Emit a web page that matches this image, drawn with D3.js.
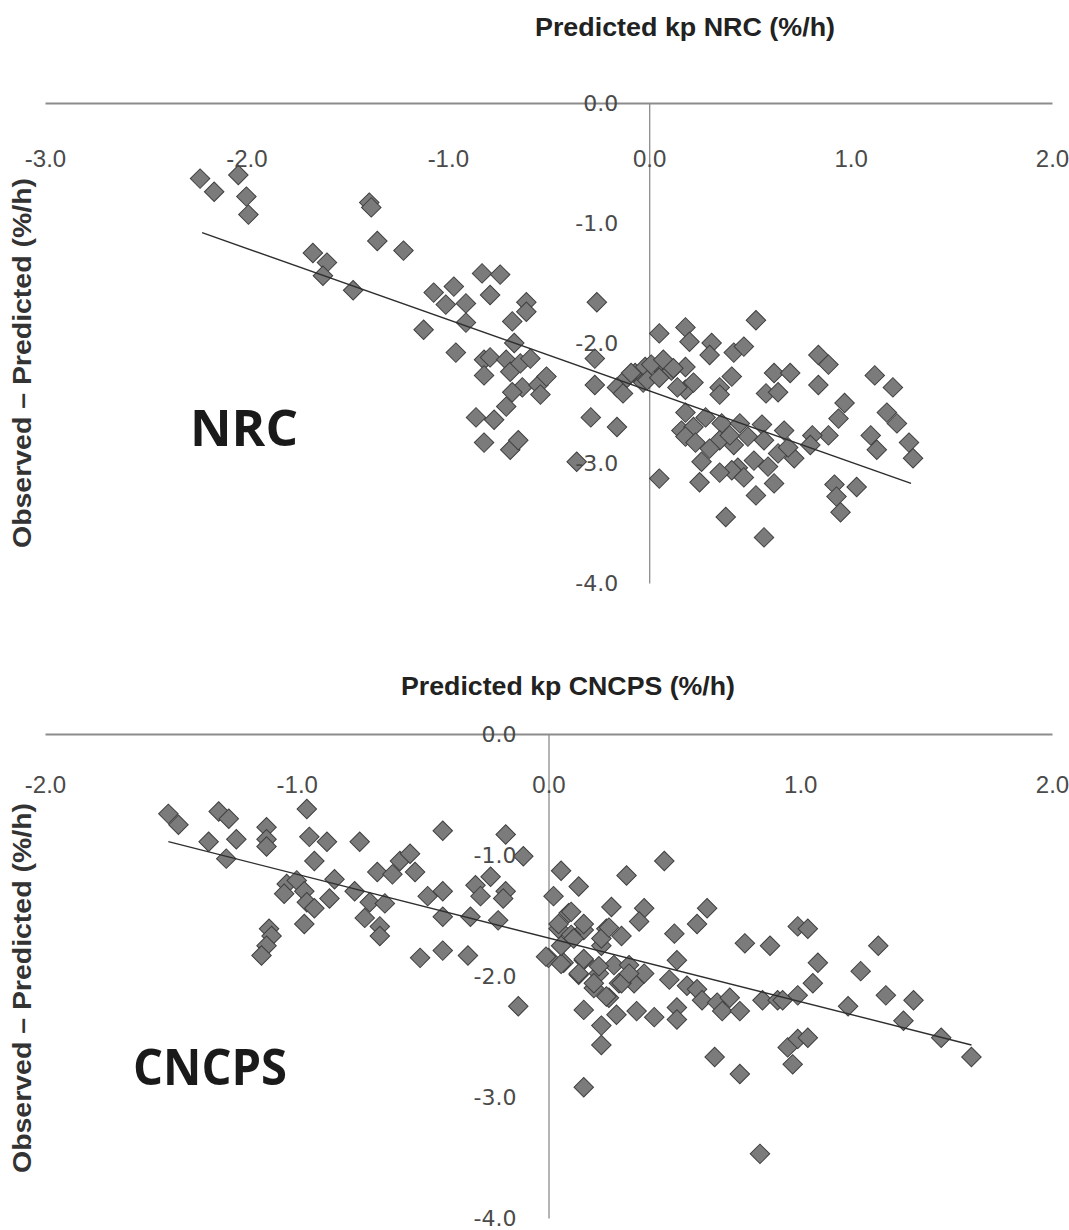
<!DOCTYPE html>
<html><head><meta charset="utf-8">
<script src="https://cdn.jsdelivr.net/npm/d3@7"></script>
<style>body{margin:0;background:#fff}svg{display:block}</style>
</head><body>
<svg id="c" width="1069" height="1230"></svg>
<script>
// ---- data ----
const xTicksNRC = [-3, -2, -1, 0, 1, 2];
const xTicksCNCPS = [-2, -1, 0, 1, 2];
const yTicks = [0, -1, -2, -3, -4];

const nrcPoints = [
[-2.23,-0.63],[-2.16,-0.74],[-2.04,-0.60],[-2.00,-0.78],[-1.99,-0.93],
[-1.67,-1.25],[-1.60,-1.33],[-1.62,-1.44],[-1.47,-1.56],[-1.39,-0.83],[-1.38,-0.87],[-1.35,-1.15],[-1.22,-1.23],
[-1.07,-1.58],[-0.97,-1.53],[-1.01,-1.68],[-0.91,-1.67],[-1.12,-1.89],[-0.91,-1.83],[-0.83,-1.42],[-0.74,-1.43],[-0.79,-1.60],[-0.61,-1.66],[-0.61,-1.74],[-0.68,-1.82],[-0.67,-2.00],[-0.26,-1.66],
[-0.96,-2.08],[-0.82,-2.14],[-0.79,-2.12],[-0.82,-2.27],[-0.71,-2.14],[-0.69,-2.24],[-0.64,-2.17],[-0.59,-2.13],[-0.63,-2.37],[-0.55,-2.35],[-0.51,-2.28],[-0.54,-2.43],[-0.68,-2.41],[-0.71,-2.53],[-0.86,-2.62],[-0.77,-2.64],[-0.82,-2.83],[-0.69,-2.89],[-0.65,-2.81],
[-0.27,-2.13],[-0.27,-2.35],[-0.16,-2.37],[-0.13,-2.42],[-0.07,-2.25],[-0.03,-2.33],[-0.29,-2.62],[-0.16,-2.70],[-0.36,-2.99],[-0.11,-2.29],[-0.09,-2.25],[-0.02,-2.20],
[0.05,-1.92],[0.18,-1.87],[0.05,-2.20],[0.11,-2.23],[0.18,-2.20],[0.05,-3.13],[0.18,-2.39],[0.18,-2.58],[0.16,-2.73],[0.20,-1.99],[0.31,-2.00],[0.30,-2.10],[0.42,-2.08],[0.47,-2.03],[0.53,-1.81],
[0.01,-2.18],[0.07,-2.14],[0.12,-2.21],[-0.01,-2.31],[0.05,-2.29],[0.14,-2.37],[0.22,-2.33],[0.35,-2.37],[0.41,-2.28],[0.35,-2.43],[0.62,-2.25],[0.70,-2.25],[0.58,-2.42],[0.64,-2.41],
[0.84,-2.10],[0.89,-2.18],[0.84,-2.35],[1.12,-2.27],[1.21,-2.37],[0.97,-2.50],[0.94,-2.63],[0.89,-2.77],[0.81,-2.77],[0.80,-2.85],[1.18,-2.58],[1.23,-2.67],[1.10,-2.77],[1.13,-2.89],[1.29,-2.83],[1.31,-2.96],
[0.22,-2.70],[0.18,-2.78],[0.23,-2.83],[0.28,-2.62],[0.36,-2.67],[0.45,-2.67],[0.56,-2.68],[0.67,-2.73],[0.49,-2.78],[0.57,-2.81],[0.42,-2.85],[0.35,-2.81],[0.30,-2.88],[0.40,-2.77],[0.64,-2.92],[0.72,-2.96],[0.69,-2.87],[0.52,-2.98],[0.59,-3.03],[0.44,-3.04],[0.26,-2.99],[0.41,-3.06],[0.35,-3.08],[0.47,-3.12],[0.62,-3.17],[0.25,-3.16],[0.53,-3.27],[0.92,-3.18],[1.03,-3.20],[0.93,-3.28],[0.95,-3.41],[0.38,-3.45],[0.57,-3.62]
];

const cncpsPoints = [
[-1.51,-0.66],[-1.47,-0.75],[-1.31,-0.64],[-1.27,-0.70],[-1.35,-0.89],[-1.24,-0.87],[-1.28,-1.03],[-1.12,-0.77],[-1.12,-0.87],[-1.12,-0.93],[-0.96,-0.62],[-0.95,-0.85],[-0.88,-0.89],[-0.75,-0.89],[-0.93,-1.05],
[-1.04,-1.24],[-1.05,-1.32],[-1.00,-1.21],[-0.97,-1.30],[-0.96,-1.39],[-0.93,-1.44],[-0.87,-1.36],[-0.85,-1.20],[-0.97,-1.57],[-1.11,-1.61],[-1.10,-1.67],[-1.12,-1.75],[-1.14,-1.83],
[-0.77,-1.30],[-0.71,-1.39],[-0.65,-1.40],[-0.73,-1.52],[-0.67,-1.59],[-0.67,-1.67],[-0.68,-1.14],[-0.62,-1.16],[-0.59,-1.05],[-0.55,-0.99],[-0.53,-1.14],[-0.42,-0.80],[-0.48,-1.34],[-0.42,-1.30],[-0.42,-1.51],[-0.31,-1.51],[-0.51,-1.85],[-0.42,-1.79],[-0.32,-1.83],
[-0.17,-0.83],[-0.23,-1.18],[-0.29,-1.25],[-0.27,-1.34],[-0.17,-1.30],[-0.18,-1.36],[-0.20,-1.54],[-0.10,-1.01],[-0.12,-2.25],
[0.05,-1.13],[0.12,-1.26],[0.02,-1.34],[0.31,-1.17],[0.46,-1.05],[0.25,-1.43],[0.08,-1.48],[0.38,-1.44],[0.36,-1.55],[0.63,-1.44],[0.59,-1.57],[0.50,-1.65],
[0.04,-1.61],[0.14,-1.62],[0.23,-1.61],[0.29,-1.67],[0.21,-1.75],[0.09,-1.66],[0.00,-1.85],[0.06,-1.89],[0.14,-1.87],[0.26,-1.91],[0.32,-1.91],[0.38,-1.98],[0.12,-1.99],[0.20,-1.98],[0.18,-2.10],[0.28,-2.06],[0.34,-2.06],[0.24,-2.18],
[0.51,-1.87],[0.48,-2.03],[0.55,-2.08],[0.59,-2.11],[0.61,-2.20],[0.67,-2.22],[0.72,-2.18],[0.69,-2.29],[0.76,-2.29],[0.78,-1.73],[0.88,-1.75],[0.85,-2.20],[0.91,-2.20],[0.99,-2.16],[0.99,-1.59],[1.03,-1.61],[1.07,-1.89],[1.05,-2.06],
[0.14,-2.28],[0.27,-2.32],[0.35,-2.29],[0.42,-2.34],[0.51,-2.26],[0.51,-2.36],[0.21,-2.41],[0.21,-2.57],[0.66,-2.67],[0.76,-2.81],[0.95,-2.59],[0.99,-2.52],[1.03,-2.51],[0.97,-2.73],[0.14,-2.92],
[1.31,-1.75],[1.24,-1.96],[0.93,-2.20],[1.19,-2.25],[1.34,-2.16],[1.45,-2.20],[1.41,-2.37],[1.56,-2.51],[1.68,-2.67],[0.84,-3.47],
[-0.01,-1.84],[0.05,-1.90],[0.04,-1.57],[0.09,-1.47],[0.14,-1.57],[0.10,-1.69],[0.05,-1.75],[0.14,-1.86],[0.12,-1.98],[0.20,-1.92],[0.21,-1.69],[0.24,-1.60],[0.18,-2.06],[0.29,-2.06],[0.23,-2.17],[0.32,-1.98]
];

const trendNRC = [[-2.22, -1.08], [1.30, -3.17]];
const trendCNCPS = [[-1.51, -0.89], [1.68, -2.57]];

const titleNRC = "Predicted kp NRC (%/h)";
const titleCNCPS = "Predicted kp CNCPS (%/h)";
const yTitle = "Observed \u2013 Predicted (%/h)";

// ---- drawing ----
const svg = d3.select("#c");
const fmt = d => d.toFixed(1);

function panel(o) {
  const x = d3.scaleLinear().domain(o.xDomain).range([45, 1052]);
  const y = d3.scaleLinear().domain([-4, 0]).range([o.yBottom, o.yTop]);
  const g = svg.append("g");

  // axis lines (below points)
  const xa = g.append("g").attr("transform", `translate(0,${y(0)})`)
    .call(d3.axisBottom(x).tickValues(o.xTicks).tickSize(0).tickSizeOuter(0).tickFormat(""));
  xa.select(".domain").attr("stroke", "#8c8c8c").attr("stroke-width", 2);
  const ya = g.append("g").attr("transform", `translate(${x(0)},0)`)
    .call(d3.axisLeft(y).tickValues(yTicks).tickSize(0).tickSizeOuter(0).tickFormat(""));
  ya.select(".domain").attr("stroke", "#8c8c8c").attr("stroke-width", 1.3);

  // points
  const sym = d3.symbol().type(d3.symbolSquare).size(190);
  g.append("g").selectAll("path").data(o.points).join("path")
    .attr("d", sym)
    .attr("transform", d => `translate(${x(d[0])},${y(d[1])}) rotate(45)`)
    .attr("fill", "#7b7b7b").attr("stroke", "#3f3f3f").attr("stroke-width", 1);

  // trend line
  g.append("path").datum(o.trend)
    .attr("d", d3.line().x(d => x(d[0])).y(d => y(d[1])))
    .attr("fill", "none").attr("stroke", "#2e2e2e").attr("stroke-width", 1.4);

  // tick labels (on top)
  const xl = g.append("g").attr("transform", `translate(0,${y(0)})`)
    .call(d3.axisBottom(x).tickValues(o.xTicks).tickSize(0).tickPadding(o.xPad).tickFormat(fmt));
  xl.select(".domain").remove();
  xl.selectAll("text").attr("font-family", "'Liberation Sans', Arial, sans-serif")
    .attr("font-size", 24).attr("fill", "#4a4a4a");
  const yl = g.append("g").attr("transform", `translate(${x(0)},0)`)
    .call(d3.axisLeft(y).tickValues(yTicks).tickSize(0).tickPadding(o.yPad).tickFormat(fmt));
  yl.select(".domain").remove();
  yl.selectAll("text").attr("font-family", "'DejaVu Sans', Verdana, sans-serif")
    .attr("font-size", 22).attr("fill", "#4a4a4a");

  // titles
  g.append("text").attr("x", o.titleX).attr("y", o.titleY).attr("text-anchor", "middle")
    .attr("font-family", "'Liberation Sans', Arial, sans-serif").attr("font-weight", "bold")
    .attr("font-size", 26).attr("fill", "#222")
    .attr("textLength", o.titleLen).attr("lengthAdjust", "spacingAndGlyphs")
    .text(o.title);
  g.append("text").attr("transform", `translate(31,${o.yTitleY}) rotate(-90)`).attr("text-anchor", "middle")
    .attr("font-family", "'Liberation Sans', Arial, sans-serif").attr("font-weight", "bold")
    .attr("font-size", 26).attr("fill", "#333")
    .attr("textLength", 370).attr("lengthAdjust", "spacingAndGlyphs")
    .text(yTitle);
  g.append("text").attr("x", o.labelX).attr("y", o.labelY)
    .attr("font-family", "'Open Sans', 'Liberation Sans', sans-serif").attr("font-weight", "bold")
    .attr("font-size", 50).attr("fill", "#1a1a1a")
    .attr("textLength", o.labelLen).attr("lengthAdjust", "spacingAndGlyphs")
    .text(o.label);
}

panel({xDomain: [-3, 2], xTicks: xTicksNRC, yTop: 103, yBottom: 583, points: nrcPoints, trend: trendNRC,
  xPad: 47, yPad: 31, title: titleNRC, titleX: 685, titleY: 36, titleLen: 300, yTitleY: 363,
  label: "NRC", labelX: 190, labelY: 446, labelLen: 108});
panel({xDomain: [-2, 2], xTicks: xTicksCNCPS, yTop: 734, yBottom: 1218, points: cncpsPoints, trend: trendCNCPS,
  xPad: 42, yPad: 32, title: titleCNCPS, titleX: 568, titleY: 695, titleLen: 334, yTitleY: 988,
  label: "CNCPS", labelX: 133, labelY: 1085, labelLen: 154});
</script>
</body></html>
